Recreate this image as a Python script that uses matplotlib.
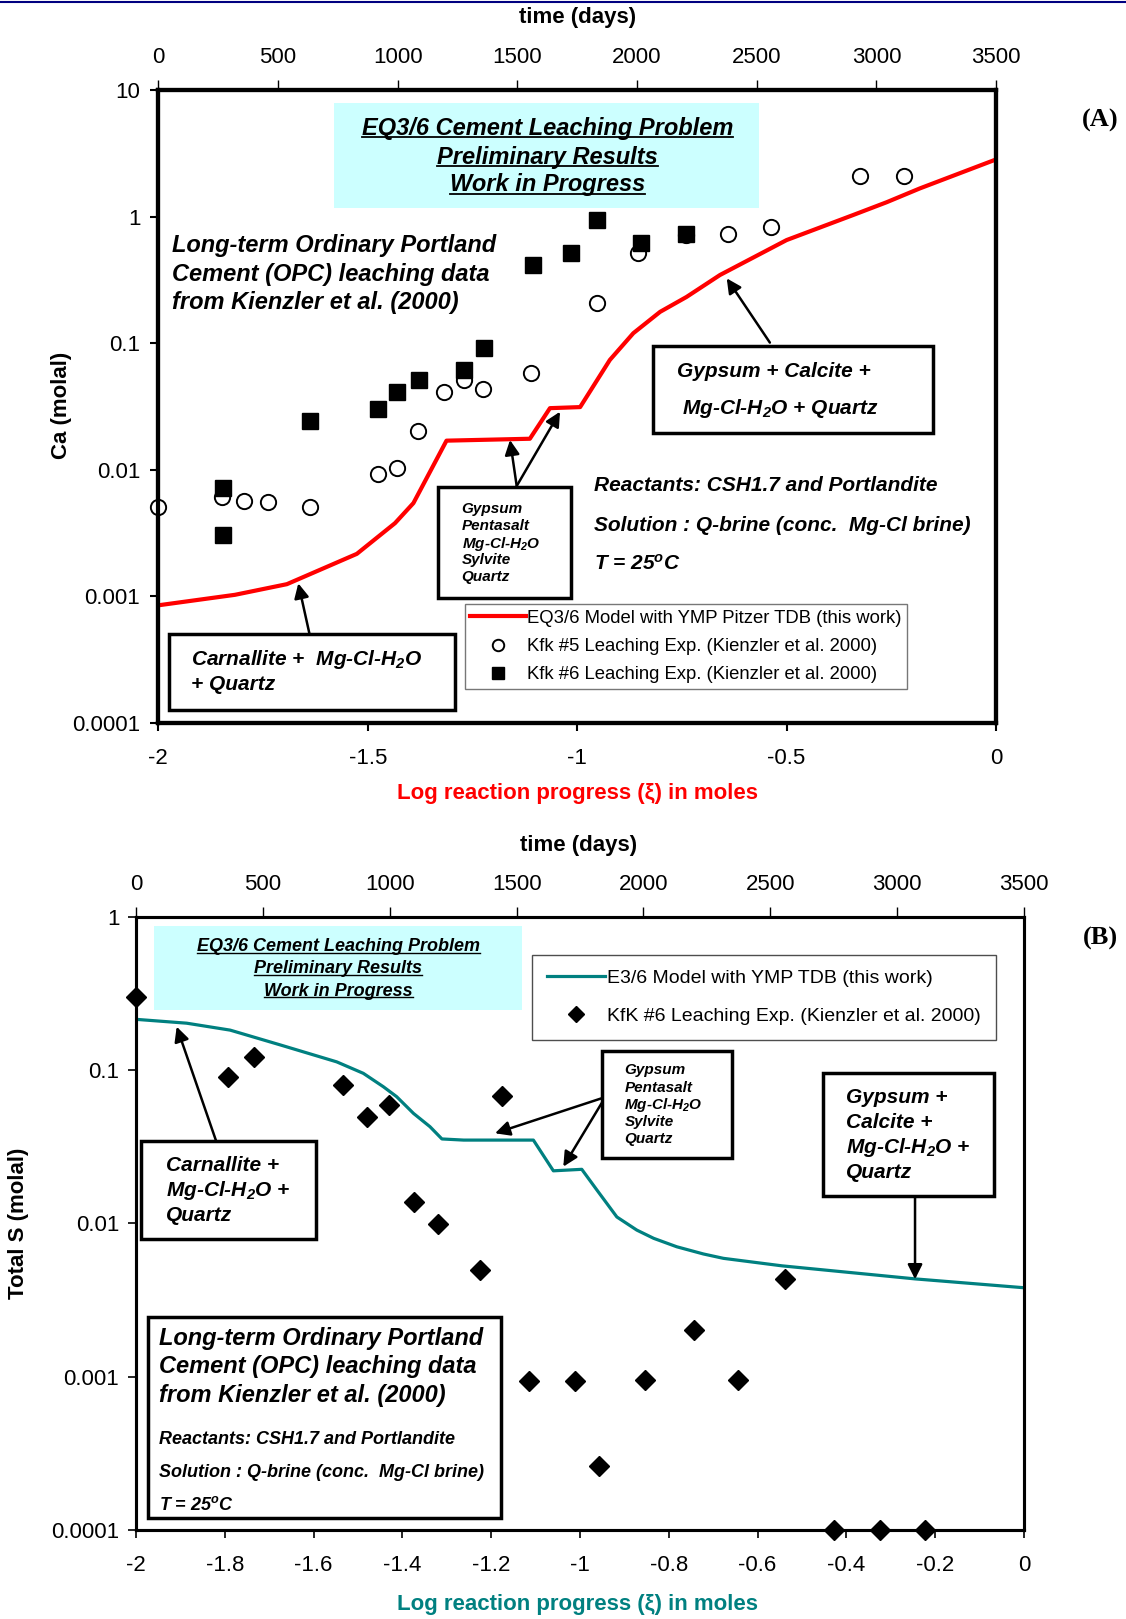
import matplotlib
matplotlib.use('Agg')
import matplotlib.pyplot as plt
from matplotlib.patches import Rectangle
from matplotlib.lines import Line2D

plt.rcParams['font.family'] = ['Liberation Sans', 'DejaVu Sans']
plt.rcParams['mathtext.default'] = 'regular'

# ---------------- Panel A data (Ca) ----------------
xi_ca_model = [-2.0, -1.817, -1.693, -1.526, -1.435, -1.391, -1.312, -1.113, -1.065,
               -0.993, -0.922, -0.866, -0.802, -0.739, -0.659, -0.5, -0.341, -0.261,
               -0.182, 0.0]
ca_model = [0.000851, 0.00103, 0.00125, 0.00217, 0.00379, 0.00546, 0.0170, 0.0176, 0.0307,
            0.0313, 0.0738, 0.120, 0.177, 0.232, 0.346, 0.653, 1.03, 1.30,
            1.67, 2.83]

xi_kfk5 = [-2.0, -1.849, -1.795, -1.737, -1.638, -1.475, -1.431, -1.381, -1.317, -1.27,
           -1.226, -1.110, -0.953, -0.854, -0.741, -0.639, -0.538, -0.325, -0.220]
ca_kfk5 = [0.00513, 0.00615, 0.00569, 0.00556, 0.00513, 0.00929, 0.0103, 0.0204, 0.0415,
           0.0513, 0.0436, 0.0579, 0.207, 0.513, 0.716, 0.724, 0.824, 2.09, 2.09]

xi_kfk6 = [-1.845, -1.845, -1.638, -1.475, -1.431, -1.377, -1.27, -1.222, -1.106,
           -1.015, -0.953, -0.848, -0.741]
ca_kfk6 = [0.00718, 0.00307, 0.0245, 0.0305, 0.0415, 0.0513, 0.0615, 0.0923, 0.415,
           0.519, 0.94, 0.622, 0.724]

# ---------------- Panel B data (Total S) ----------------
xi_s_model = [-2.0, -1.886, -1.788, -1.676, -1.548, -1.488, -1.443, -1.413, -1.375, -1.338,
              -1.311, -1.262, -1.105, -1.06, -0.996, -0.962, -0.917, -0.872, -0.834, -0.782,
              -0.722, -0.677, -0.545, -0.245, 0.0]
s_model = [0.214, 0.202, 0.182, 0.146, 0.113, 0.0951, 0.0778, 0.067, 0.0521, 0.0427,
           0.0355, 0.0349, 0.0349, 0.0220, 0.0225, 0.0165, 0.0110, 0.00903, 0.00798, 0.00703,
           0.00631, 0.00591, 0.00528, 0.00434, 0.0038]

xi_s_kfk6 = [-2.0, -1.793, -1.734, -1.533, -1.479, -1.431, -1.375, -1.319, -1.226, -1.176,
             -1.114, -1.011, -0.957, -0.853, -0.744, -0.645, -0.539, -0.429, -0.324, -0.222]
s_kfk6 = [0.301, 0.0895, 0.121, 0.0802, 0.0495, 0.0594, 0.0138, 0.00989, 0.00495, 0.0676,
          0.000935, 0.000935, 0.000261, 0.000951, 0.00201, 0.000951, 0.00432, 0.0001, 0.0001, 0.0001]

# ---------------- ticks ----------------
time_ticks = [0, 500, 1000, 1500, 2000, 2500, 3000, 3500]
time_labels = ['0', '500', '1000', '1500', '2000', '2500', '3000', '3500']
ca_ticks = [10, 1, 0.1, 0.01, 0.001, 0.0001]
ca_labels = ['10', '1', '0.1', '0.01', '0.001', '0.0001']
s_ticks = [1, 0.1, 0.01, 0.001, 0.0001]
s_labels = ['1', '0.1', '0.01', '0.001', '0.0001']
xa_ticks = [-2, -1.5, -1, -0.5, 0]
xa_labels = ['-2', '-1.5', '-1', '-0.5', '0']
xb_ticks = [-2, -1.8, -1.6, -1.4, -1.2, -1, -0.8, -0.6, -0.4, -0.2, 0]
xb_labels = ['-2', '-1.8', '-1.6', '-1.4', '-1.2', '-1', '-0.8', '-0.6', '-0.4', '-0.2', '0']

RED = '#ff0000'
TEAL = '#008080'
CYAN = '#ccffff'

fig = plt.figure(figsize=(11.26, 16.19), dpi=100)
underlined = []


def style_axes(ax, lw):
    for s in ax.spines.values():
        s.set_linewidth(lw)
    ax.minorticks_off()


def box(ax, x0, y0, x1, y1, lw=2.5):
    ax.add_patch(Rectangle((x0, y0), x1 - x0, y1 - y0, transform=ax.transAxes,
                           fill=False, lw=lw, ec='black', zorder=5, clip_on=False))


def arrow(ax, start, tip):
    ax.annotate('', xy=tip, xytext=start, xycoords='axes fraction',
                textcoords='axes fraction', zorder=6,
                arrowprops=dict(arrowstyle='-|>', color='black', lw=1.8,
                                mutation_scale=22, shrinkA=0, shrinkB=0))


def btext(ax, x, y, s, size, ha='left', under=False):
    t = ax.text(x, y, s, transform=ax.transAxes, fontsize=size, fontweight='bold',
                fontstyle='italic', ha=ha, va='center', zorder=7)
    if under:
        underlined.append(t)
    return t


# ======================= Panel A =======================
axA = fig.add_axes([0.1406, 0.5534, 0.744, 0.391])
axA.set_yscale('log')
axA.set_xlim(-2, 0)
axA.set_ylim(0.0001, 10)
axA.plot(xi_ca_model, ca_model, color=RED, lw=3, zorder=3,
         label='EQ3/6 Model with YMP Pitzer TDB (this work)')
axA.plot(xi_kfk5, ca_kfk5, ls='none', marker='o', ms=11, mfc='white', mec='black',
         mew=1.4, zorder=4, clip_on=False, label='Kfk #5 Leaching Exp. (Kienzler et al. 2000)')
axA.plot(xi_kfk6, ca_kfk6, ls='none', marker='s', ms=11, color='black', zorder=4,
         clip_on=False, label='Kfk #6 Leaching Exp. (Kienzler et al. 2000)')
axA.set_yticks(ca_ticks)
axA.set_yticklabels(ca_labels)
axA.set_xticks(xa_ticks)
axA.set_xticklabels(xa_labels)
axA.tick_params(axis='both', labelsize=16, length=6, width=1.5, direction='out')
axA.tick_params(axis='x', pad=12)
axA.tick_params(axis='y', pad=7)
style_axes(axA, 3)

topA = axA.twiny()
topA.set_xlim(0, 3500)
topA.set_xticks(time_ticks)
topA.set_xticklabels(time_labels)
topA.tick_params(axis='x', labelsize=16, length=7, width=1, direction='out', pad=8.5)
style_axes(topA, 3)

legA = axA.legend(loc='upper left', bbox_to_anchor=(0.3656, 0.188), borderaxespad=0,
                  fontsize=13.3, frameon=True, fancybox=False, edgecolor='#555555',
                  handlelength=3.0, handletextpad=0.1, labelspacing=0.62,
                  borderpad=0.3, markerscale=0.75)
legA.get_frame().set_linewidth(1.0)
legA.set_zorder(8)

# cyan banner
axA.add_patch(Rectangle((0.2094, 0.8143), 0.5073, 0.1645, transform=axA.transAxes,
                        color=CYAN, zorder=1, lw=0))
btext(axA, 0.4643, 0.9397, 'EQ3/6 Cement Leaching Problem', 17, ha='center', under=True)
btext(axA, 0.4643, 0.8941, 'Preliminary Results', 17, ha='center', under=True)
btext(axA, 0.4643, 0.8502, 'Work in Progress', 17, ha='center', under=True)

btext(axA, 0.016, 0.7540, 'Long-term Ordinary Portland', 17)
btext(axA, 0.016, 0.7085, 'Cement (OPC) leaching data', 17)
btext(axA, 0.016, 0.6645, 'from Kienzler et al. (2000)', 17)

box(axA, 0.591, 0.4577, 0.9249, 0.596)
btext(axA, 0.6195, 0.5554, 'Gypsum + Calcite +', 15)
btext(axA, 0.6256, 0.4967, 'Mg-Cl-H$_2$O + Quartz', 15)
arrow(axA, (0.730, 0.601), (0.6785, 0.7025))

box(axA, 0.3343, 0.197, 0.4926, 0.3723)
for yy, s in zip([0.3388, 0.3111, 0.2834, 0.2573, 0.2313],
                 ['Gypsum', 'Pentasalt', 'Mg-Cl-H$_2$O', 'Sylvite', 'Quartz']):
    btext(axA, 0.362, yy, s, 11)
arrow(axA, (0.4278, 0.3745), (0.4198, 0.4471))
arrow(axA, (0.4278, 0.3745), (0.4795, 0.4918))

btext(axA, 0.5197, 0.3746, 'Reactants: CSH1.7 and Portlandite', 15)
btext(axA, 0.5197, 0.3127, 'Solution : Q-brine (conc.  Mg-Cl brine)', 15)
btext(axA, 0.5197, 0.2524, 'T = 25$^o$C', 15)

box(axA, 0.0123, 0.0212, 0.3547, 0.140)
btext(axA, 0.0394, 0.101, 'Carnallite +  Mg-Cl-H$_2$O', 15)
btext(axA, 0.0394, 0.0603, '+ Quartz', 15)
arrow(axA, (0.1803, 0.1417), (0.1671, 0.2207))

fig.text(0.5133, 0.9892, 'time (days)', fontsize=16, fontweight='bold', ha='center', va='center')
fig.text(0.5133, 0.5096, 'Log reaction progress (\u03be) in moles', fontsize=16,
         fontweight='bold', color=RED, ha='center', va='center')
fig.text(0.055, 0.7494, 'Ca (molal)', fontsize=16, fontweight='bold', rotation=90,
         ha='center', va='center')
fig.text(0.977, 0.9254, '(A)', fontsize=19, fontweight='bold', family='Liberation Serif',
         ha='center', va='center')

# ======================= Panel B =======================
axB = fig.add_axes([0.1208, 0.055, 0.7886, 0.3788])
axB.set_yscale('log')
axB.set_xlim(-2, 0)
axB.set_ylim(0.0001, 1)
axB.plot(xi_s_model, s_model, color=TEAL, lw=2.3, zorder=3,
         label='E3/6 Model with YMP TDB (this work)')
axB.plot(xi_s_kfk6, s_kfk6, ls='none', marker='D', ms=10.5, color='black', zorder=4,
         clip_on=False, label='KfK #6 Leaching Exp. (Kienzler et al. 2000)')
axB.set_yticks(s_ticks)
axB.set_yticklabels(s_labels)
axB.set_xticks(xb_ticks)
axB.set_xticklabels(xb_labels)
axB.tick_params(axis='both', labelsize=16, length=6, width=1.2, direction='out')
axB.tick_params(axis='x', pad=12)
axB.tick_params(axis='y', pad=6)
style_axes(axB, 2.2)

topB = axB.twiny()
topB.set_xlim(0, 3500)
topB.set_xticks(time_ticks)
topB.set_xticklabels(time_labels)
topB.tick_params(axis='x', labelsize=16, length=7, width=1, direction='out', pad=8.5)
style_axes(topB, 2.2)

legB = axB.legend(loc='upper left', bbox_to_anchor=(0.4465, 0.9377), borderaxespad=0,
                  fontsize=14, frameon=True, fancybox=False, edgecolor='#222222',
                  handlelength=3.0, handletextpad=0.1, labelspacing=1.05,
                  borderpad=0.75, markerscale=0.8)
legB.get_frame().set_linewidth(1.0)
legB.set_zorder(8)

axB.add_patch(Rectangle((0.0198, 0.8485), 0.4151, 0.1363, transform=axB.transAxes,
                        color=CYAN, zorder=1, lw=0))
btext(axB, 0.2279, 0.9512, 'EQ3/6 Cement Leaching Problem', 13, ha='center', under=True)
btext(axB, 0.2279, 0.9158, 'Preliminary Results', 13, ha='center', under=True)
btext(axB, 0.2279, 0.8788, 'Work in Progress', 13, ha='center', under=True)

box(axB, 0.0058, 0.4747, 0.2023, 0.6347)
btext(axB, 0.0337, 0.5943, 'Carnallite +', 15)
btext(axB, 0.0337, 0.5539, 'Mg-Cl-H$_2$O +', 15)
btext(axB, 0.0337, 0.5135, 'Quartz', 15)
arrow(axB, (0.0901, 0.6347), (0.0458, 0.8206))

box(axB, 0.5244, 0.6061, 0.6709, 0.7811)
for yy, s in zip([0.7492, 0.7205, 0.6936, 0.665, 0.638],
                 ['Gypsum', 'Pentasalt', 'Mg-Cl-H$_2$O', 'Sylvite', 'Quartz']):
    btext(axB, 0.55, yy, s, 11)
arrow(axB, (0.5244, 0.7039), (0.4043, 0.6468))
arrow(axB, (0.5244, 0.6960), (0.4812, 0.5924))

box(axB, 0.7733, 0.5438, 0.9663, 0.7458)
for yy, s in zip([0.7054, 0.665, 0.6229, 0.5825],
                 ['Gypsum +', 'Calcite +', 'Mg-Cl-H$_2$O +', 'Quartz']):
    btext(axB, 0.80, yy, s, 15)
arrow(axB, (0.8773, 0.5438), (0.8773, 0.4088))

box(axB, 0.014, 0.0202, 0.4105, 0.3468)
btext(axB, 0.0256, 0.3114, 'Long-term Ordinary Portland', 17)
btext(axB, 0.0256, 0.2660, 'Cement (OPC) leaching data', 17)
btext(axB, 0.0256, 0.2189, 'from Kienzler et al. (2000)', 17)
btext(axB, 0.0256, 0.1481, 'Reactants: CSH1.7 and Portlandite', 13)
btext(axB, 0.0256, 0.0943, 'Solution : Q-brine (conc.  Mg-Cl brine)', 13)
btext(axB, 0.0256, 0.0404, 'T = 25$^o$C', 13)

fig.text(0.514, 0.4777, 'time (days)', fontsize=16, fontweight='bold', ha='center', va='center')
fig.text(0.5133, 0.0089, 'Log reaction progress (\u03be) in moles', fontsize=16,
         fontweight='bold', color=TEAL, ha='center', va='center')
fig.text(0.0165, 0.2443, 'Total S (molal)', fontsize=16, fontweight='bold', rotation=90,
         ha='center', va='center')
fig.text(0.977, 0.4203, '(B)', fontsize=19, fontweight='bold', family='Liberation Serif',
         ha='center', va='center')

# thin navy rule at the very top of the page
fig.add_artist(Line2D([0, 1], [0.9987, 0.9987], transform=fig.transFigure,
                      color='#000080', lw=1.5))

# underline banner texts
fig.canvas.draw()
renderer = fig.canvas.get_renderer()
inv = fig.transFigure.inverted()
for t in underlined:
    bb = t.get_window_extent(renderer)
    em = t.get_fontsize() * fig.dpi / 72.0
    y = bb.y0 + 0.12 * em
    (x0, yf), (x1, _) = inv.transform([(bb.x0, y), (bb.x1, y)])
    fig.add_artist(Line2D([x0, x1], [yf, yf], transform=fig.transFigure,
                          color='black', lw=1.3 if t.get_fontsize() > 14 else 1.0))

fig.savefig('out.png', dpi=100)
